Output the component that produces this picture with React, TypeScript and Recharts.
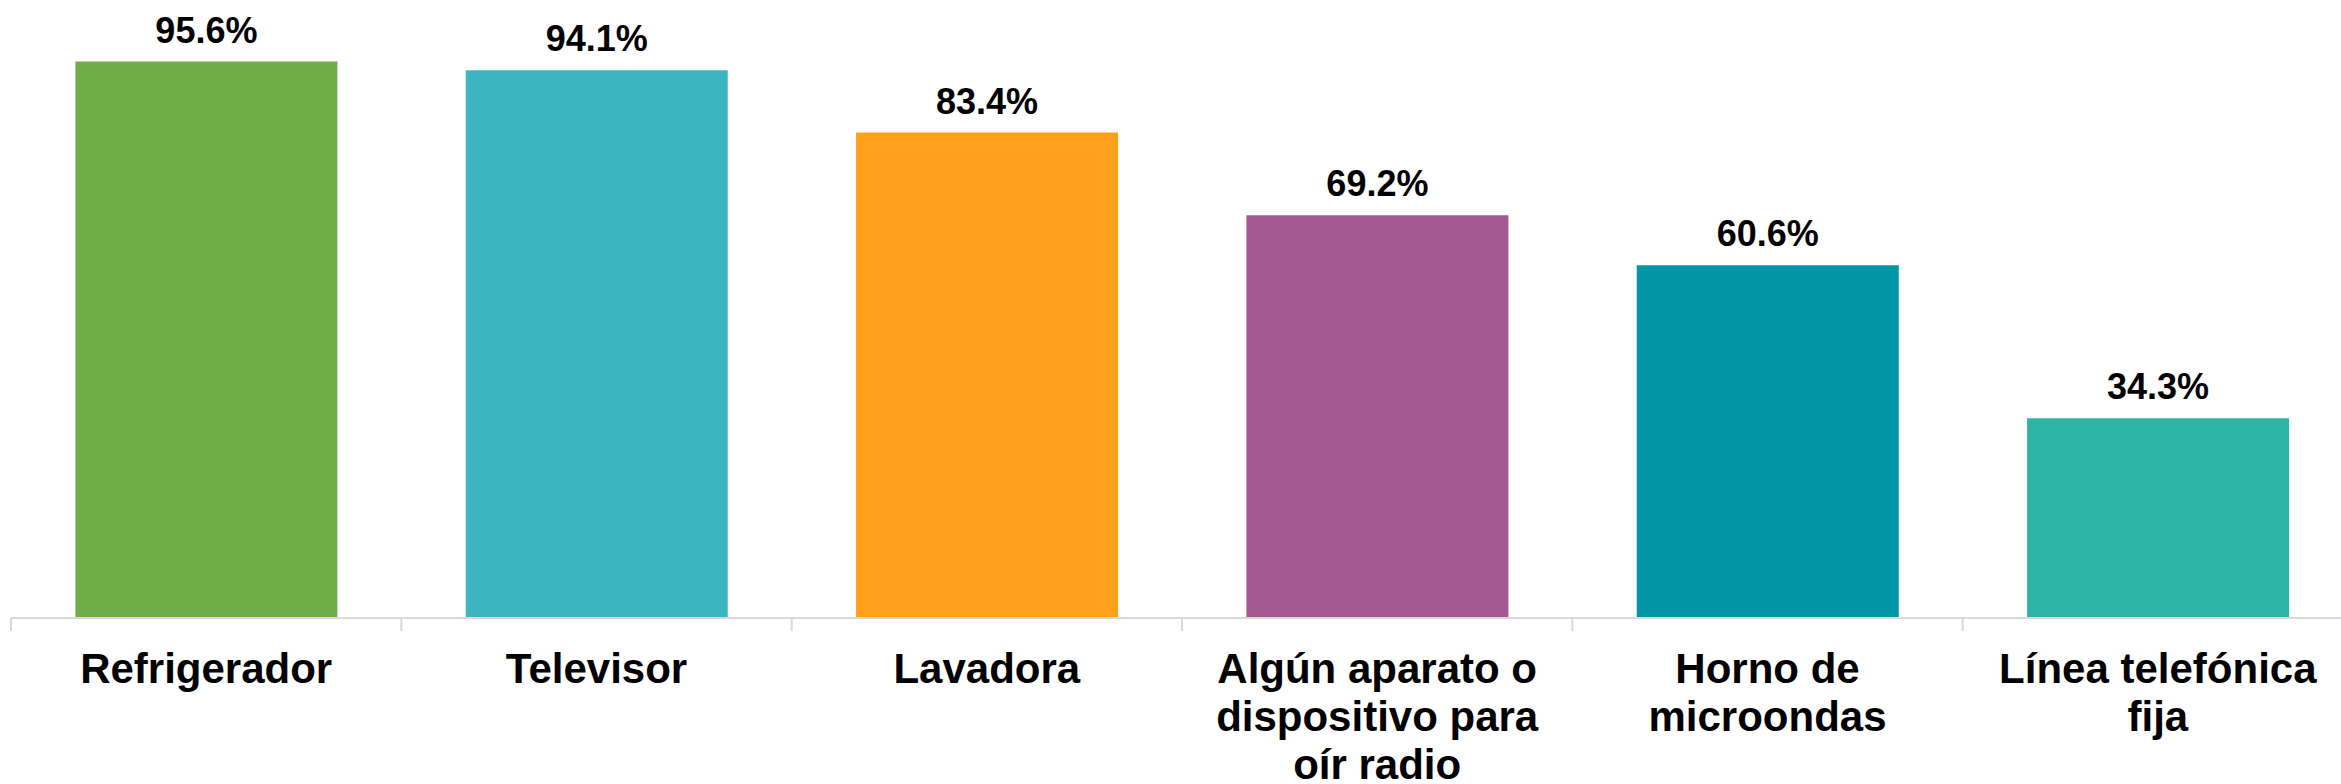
import { Bar, BarChart, Cell, LabelList, XAxis, YAxis } from "recharts";

const categories = [
  "Refrigerador",
  "Televisor",
  "Lavadora",
  "Algún aparato o dispositivo para oír radio",
  "Horno de microondas",
  "Línea telefónica fija",
];

const tickLines = [
  ["Refrigerador"],
  ["Televisor"],
  ["Lavadora"],
  ["Algún aparato o", "dispositivo para", "oír radio"],
  ["Horno de", "microondas"],
  ["Línea telefónica", "fija"],
];

const values = [95.6, 94.1, 83.4, 69.2, 60.6, 34.3];

const colors = ["#70AD47", "#3CB4C2", "#FFA01A", "#A2588F", "#0095A7", "#2DB4A5"];

const CHART_W = 2360;
const CHART_H = 784;
const MARGIN = { top: 36, right: 7, bottom: 0, left: 11 };
const BAND = (CHART_W - MARGIN.left - MARGIN.right) / categories.length;
const FONT = "'Liberation Sans', Arial, sans-serif";

const data = categories.map((name, i) => ({ name, value: values[i] }));

// category labels are wrapped by hand; the tick line sits on the left edge of each band
function CategoryTick(props: any) {
  const { x, y, index } = props;
  const lines = tickLines[index] || [];
  const axisY = y - 8;
  const left = x - BAND / 2;
  return (
    <g>
      <line x1={left} x2={left} y1={axisY} y2={axisY + 13} stroke="#D9D9D9" strokeWidth={2} />
      <text
        x={x}
        y={axisY + 65}
        textAnchor="middle"
        fontFamily={FONT}
        fontWeight="bold"
        fontSize={42}
        fill="#000"
      >
        {lines.map((l, i) => (
          <tspan key={i} x={x} dy={i === 0 ? 0 : 48}>
            {l}
          </tspan>
        ))}
      </text>
    </g>
  );
}

export default function App() {
  return (
    <div
      style={{
        position: "absolute",
        left: 0,
        top: 0,
        width: 2341,
        height: CHART_H,
        overflow: "hidden",
        background: "#fff",
      }}
    >
      <BarChart width={CHART_W} height={CHART_H} data={data} margin={MARGIN} barCategoryGap="16.5%">
        <XAxis
          dataKey="name"
          interval={0}
          height={166}
          tickLine={false}
          axisLine={{ stroke: "#D9D9D9", strokeWidth: 2 }}
          tick={<CategoryTick />}
        />
        <YAxis hide domain={[0, 100]} />
        <Bar dataKey="value" isAnimationActive={false}>
          {data.map((d, i) => (
            <Cell key={d.name} fill={colors[i]} />
          ))}
          <LabelList
            dataKey="value"
            position="top"
            offset={19}
            formatter={(v: any) => `${Number(v).toFixed(1)}%`}
            style={{ fontFamily: FONT, fontWeight: "bold", fontSize: 36, fill: "#000" }}
          />
        </Bar>
      </BarChart>
    </div>
  );
}
